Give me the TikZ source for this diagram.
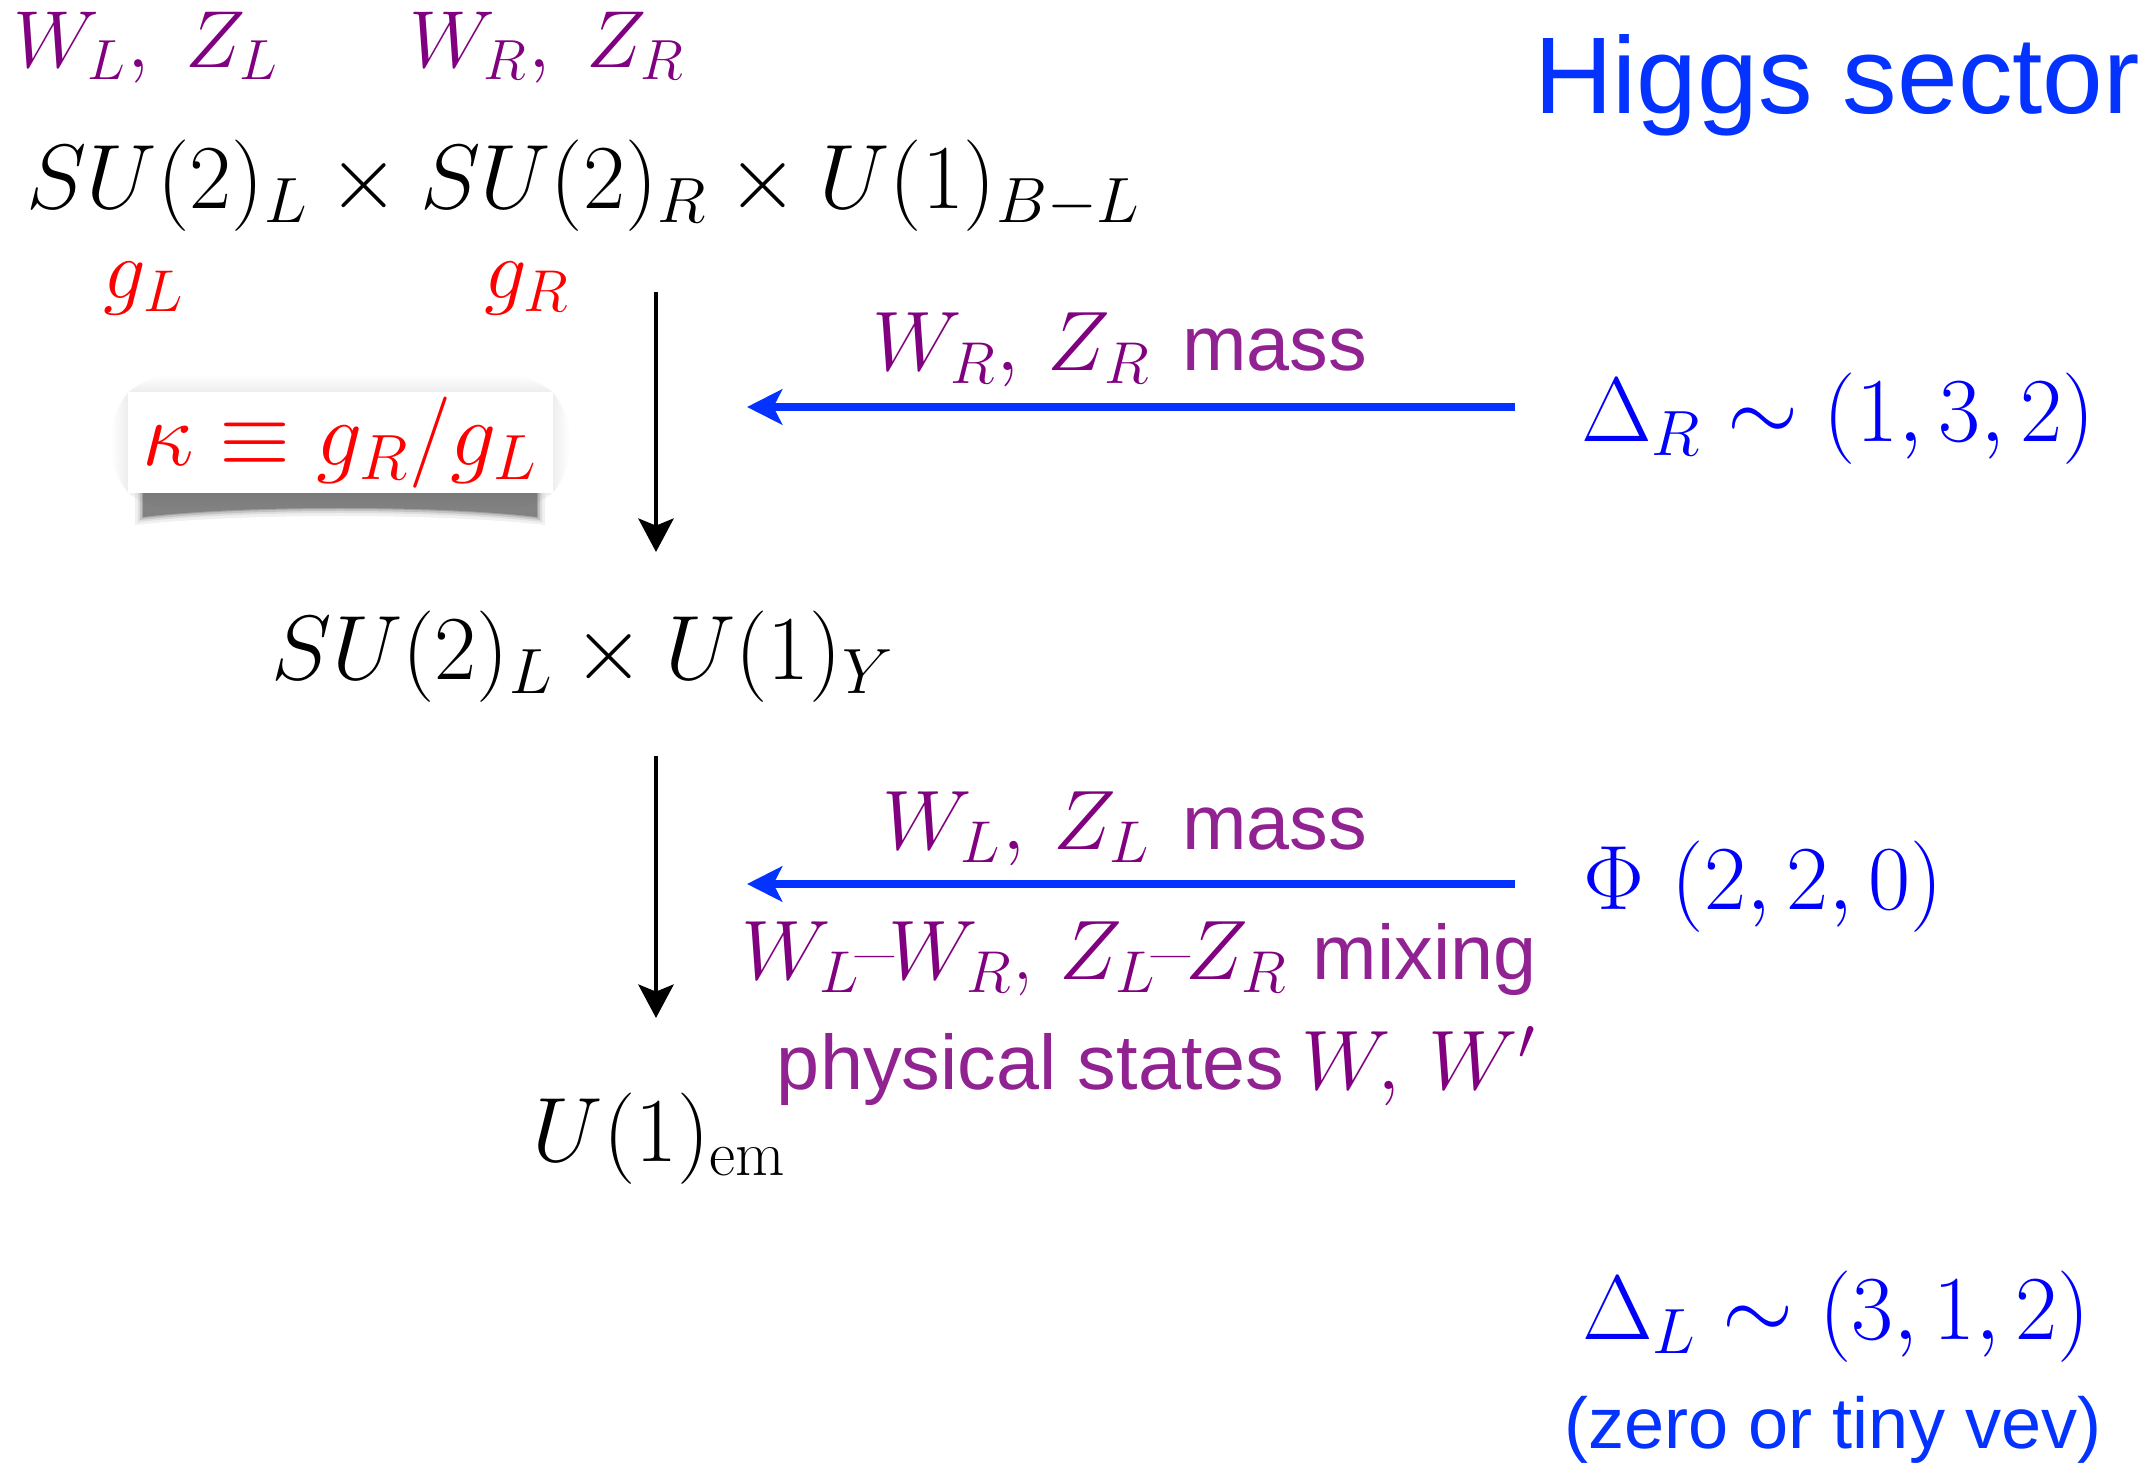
\RequirePackage{fix-cm}
\documentclass[tikz,border=0pt]{standalone}
\usepackage{fontspec}
\newfontfamily\hv{Liberation Sans}
\usetikzlibrary{arrows.meta}
\definecolor{mpurple}{RGB}{128,0,128}
\definecolor{spurple}{RGB}{145,34,145}
\definecolor{kblue}{RGB}{4,51,255}
\definecolor{mblue}{RGB}{0,0,255}
\definecolor{kred}{RGB}{255,0,0}
\newcommand{\sanslabel}[1]{{\hv\fontsize{22}{26}\selectfont\color{spurple}#1}}
\begin{document}
\begin{tikzpicture}[x=0.01cm,y=-0.01cm,
  mathtxt/.style={font=\fontsize{26}{31}\selectfont, inner sep=0pt},
  lbltxt/.style={font=\fontsize{24}{29}\selectfont, inner sep=0pt},
  toptxt/.style={font=\fontsize{23}{28}\selectfont, inner sep=0pt},
  downarrow/.style={line width=1.3pt, -{Stealth[length=9.5pt,width=10pt,inset=2pt]}},
  higgsarrow/.style={kblue, line width=2.3pt, -{Stealth[length=10pt,width=10pt,inset=2.5pt]}}]
\useasboundingbox (0,0) rectangle (2156,1470);

% top labels
\node[toptxt, text=mpurple] (wlzl) at (146,48) {$W_L,\; Z_L$};
\node[toptxt, text=mpurple] (wrzr) at (547,48) {$W_R,\; Z_R$};
\node[mathtxt] (lr) at (584,186) {$SU(2)_L\times SU(2)_R\times U(1)_{B-L}$};
\node[lbltxt, text=kred] (gl) at (144,289) {$g_L$};
\node[lbltxt, text=kred] (gr) at (527,289) {$g_R$};

% soft glow around the kappa card
\foreach \o in {2,4,...,16}{
  \fill[black, opacity=0.006, rounded corners=\o] (128-\o,392-\o) rectangle (553+\o,493+\o);
}
% lifted-paper shadow under the card
\foreach \o/\a in {8/0.06,5/0.08,3/0.12,1/0.16,0/0.2}{
  \fill[black, opacity=\a] (143-\o,490) -- (537+\o,490) -- (537+\o,517+\o)
    .. controls (440,505+\o) and (240,505+\o) .. (143-\o,517+\o) -- cycle;
}
\node[fill=white, inner sep=0pt, minimum width=4.25cm, minimum height=1.01cm] (kbox) at (340.5,442.5) {};
\node[mathtxt, text=kred] (kappa) at (kbox.center) {$\kappa\equiv g_R/g_L$};

% intermediate and final groups
\node[mathtxt] (ly) at (583,657) {$SU(2)_L\times U(1)_Y$};
\node[mathtxt] (em) at (660,1139) {$U(1)_{\mathrm{em}}$};

% vertical arrows
\coordinate (a1s) at (656,292);
\coordinate (a1e) at (656,552);
\coordinate (a2s) at (656,756);
\coordinate (a2e) at (656,1018);
\draw[downarrow] (a1s) -- (a1e);
\draw[downarrow] (a2s) -- (a2e);

% Higgs sector
\node[font=\hv\fontsize{31}{36}\selectfont, text=kblue, inner sep=0pt] (higgs) at (1837,85) {Higgs sector};
\node[mathtxt, text=mblue] (dr) at (1838,419) {$\Delta_R\sim(1,3,2)$};
\node[mathtxt, text=mblue] (phi) at (1763,887) {$\Phi\ (2,2,0)$};
\node[mathtxt, text=mblue] (dl) at (1836,1317) {$\Delta_L\sim(3,1,2)$};
\node[font=\hv\fontsize{20.5}{25}\selectfont, text=kblue, inner sep=0pt] (zero) at (1833,1430) {(zero or tiny vev)};

% horizontal arrows
\coordinate (h1s) at (1515,407);
\coordinate (h1e) at (747,407);
\coordinate (h2s) at (1515,884);
\coordinate (h2e) at (747,884);
\draw[higgsarrow] (h1s) -- (h1e);
\draw[higgsarrow] (h2s) -- (h2e);

% arrow labels
\node[lbltxt, text=mpurple, anchor=base east] (wrmass) at (1368,371)
  {$W_R,\, Z_R$\hspace{9pt}\sanslabel{mass}};
\node[lbltxt, text=mpurple, anchor=base east] (wlmass) at (1368,850)
  {$W_L,\, Z_L$\hspace{9pt}\sanslabel{mass}};
\node[lbltxt, text=mpurple, anchor=base east] (mix) at (1537,980)
  {$W_L$\hspace{-1.5pt}--\hspace{-1.5pt}$W_R$, $Z_L$\hspace{-1.5pt}--\hspace{-1.5pt}$Z_R$\hspace{7pt}\sanslabel{mixing}};
\node[lbltxt, text=mpurple, anchor=base east] (phys) at (1537,1090)
  {\sanslabel{physical states}\hspace{5pt}$W,\, W'$};
\end{tikzpicture}
\end{document}
